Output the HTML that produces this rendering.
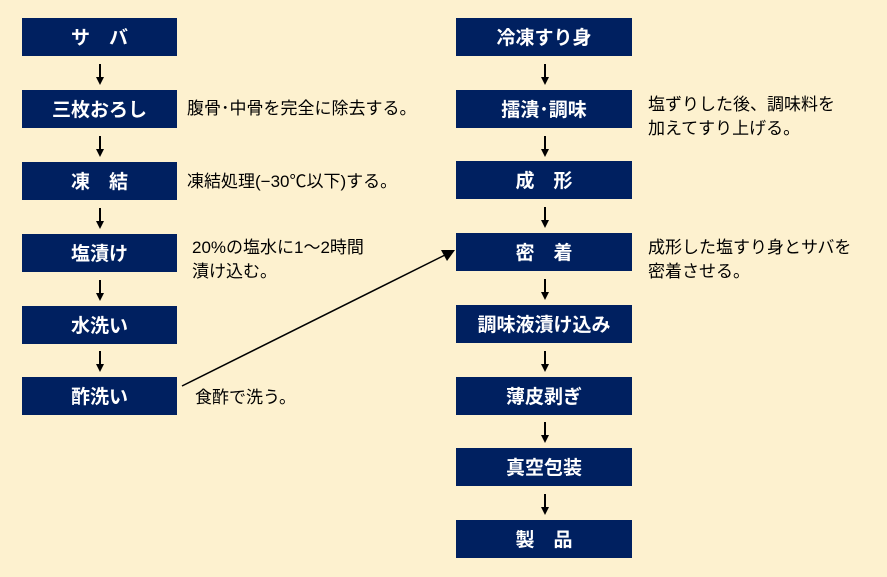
<!DOCTYPE html>
<html><head><meta charset="utf-8"><style>
body{margin:0;width:887px;height:577px;background:#fdf1cf;position:relative;overflow:hidden;font-family:"Liberation Sans","Noto Sans CJK JP",sans-serif;}
.b{position:absolute;height:38px;background:#002060;color:#fff;font-weight:bold;font-size:19px;line-height:42px;text-align:center;}
.l{left:22px;width:155px}.r{left:456px;width:176px}
.t{position:absolute;font-size:17px;line-height:24px;color:#000;white-space:nowrap}
</style></head><body>
<div class="b l" style="top:18px">サ　バ</div>
<div class="b l" style="top:90px">三枚おろし</div>
<div class="b l" style="top:162px">凍　結</div>
<div class="b l" style="top:234px">塩漬け</div>
<div class="b l" style="top:306px">水洗い</div>
<div class="b l" style="top:377px">酢洗い</div>

<div class="b r" style="top:18px">冷凍すり身</div>
<div class="b r" style="top:90px">擂潰･調味</div>
<div class="b r" style="top:161px">成　形</div>
<div class="b r" style="top:233px">密　着</div>
<div class="b r" style="top:305px">調味液漬け込み</div>
<div class="b r" style="top:377px">薄皮剥ぎ</div>
<div class="b r" style="top:448px">真空包装</div>
<div class="b r" style="top:520px">製　品</div>

<div class="t" style="left:187px;top:97px">腹骨･中骨を完全に除去する。</div>
<div class="t" style="left:187px;top:170px">凍結処理(−30℃以下)する。</div>
<div class="t" style="left:192px;top:236px">20%の塩水に1～2時間<br>漬け込む。</div>
<div class="t" style="left:195px;top:386px">食酢で洗う。</div>
<div class="t" style="left:648px;top:93px">塩ずりした後、調味料を<br>加えてすり上げる。</div>
<div class="t" style="left:648px;top:236px">成形した塩すり身とサバを<br>密着させる。</div>
<svg width="887" height="577" style="position:absolute;left:0;top:0">
<defs><g id="d"><line x1="0" y1="0" x2="0" y2="17" stroke="#000" stroke-width="2"/><polygon points="-4,13 4,13 0,21" fill="#000"/></g></defs>
<use href="#d" x="100" y="64"/><use href="#d" x="100" y="136"/><use href="#d" x="100" y="208"/><use href="#d" x="100" y="280"/><use href="#d" x="100" y="351"/>
<use href="#d" x="545" y="64"/><use href="#d" x="545" y="136"/><use href="#d" x="545" y="207"/><use href="#d" x="545" y="279"/><use href="#d" x="545" y="351"/><use href="#d" x="545" y="422"/><use href="#d" x="545" y="494"/>
<line x1="182" y1="386" x2="445" y2="255" stroke="#000" stroke-width="1.5"/>
<polygon points="455,250 441,250 447,261" fill="#000"/>
</svg>
</body></html>
